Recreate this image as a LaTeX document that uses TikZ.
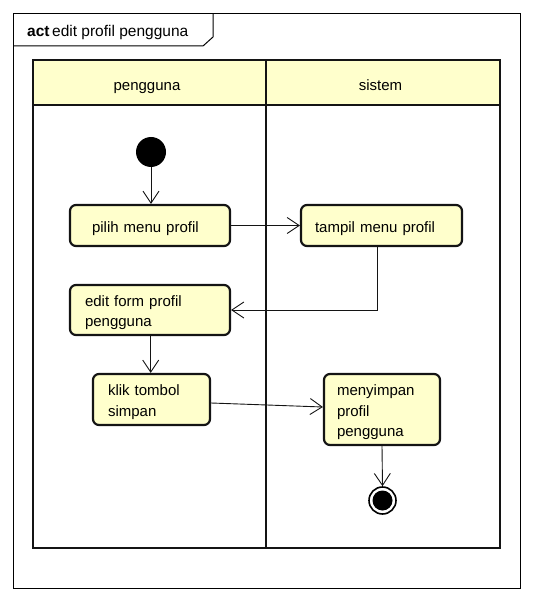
\documentclass[tikz,border=0pt]{standalone}
\usepackage{fontspec}
\setmainfont{Liberation Sans}
\usepackage{xcolor}
\usepackage{tikz}
\usetikzlibrary{positioning,arrows.meta}

\definecolor{umlfill}{HTML}{FFFFCC}
\definecolor{umlline}{HTML}{141414}

\tikzset{
  action/.style 2 args={draw=umlline, fill=umlfill, line width=2.2pt, rounded corners=6pt,
    align=left, text width=#1, inner xsep=#2, inner ysep=0pt,
    execute at begin node={\rule{0pt}{16.2pt}},
    font=\fontsize{15}{20.5}\selectfont},
  lanelabel/.style={anchor=base, inner sep=0pt, font=\fontsize{15}{18}\selectfont},
  lane/.style={draw=umlline, line width=2.4pt},
  flow/.style={->, line width=0.9pt, draw=umlline}
}

\begin{document}
\begin{tikzpicture}[x=1pt, y=-1pt, >={Straight Barb[length=12pt,width=16pt]}]
    \useasboundingbox (0,0) rectangle (533,601);

    % Frame and title
    \draw[line width=1pt] (13.5,13.5) rectangle (520,588);
    \draw[line width=1pt] (13.5,46) -- (203,46) -- (213,37) -- (213,13.5);
    \node[anchor=base west, inner sep=0pt, font=\fontsize{15.5}{18}\selectfont] (title) at (27,36.5)
        {\textbf{act}\,edit profil pengguna};

    % Swimlanes
    \fill[umlfill] (33,60) rectangle (500,105);
    \draw[lane] (33,60) rectangle (500,548);
    \draw[lane] (33,105) -- (500,105);
    \draw[lane] (266,60) -- (266,548);
    \node[lanelabel] (pengguna) at (147,90.5) {pengguna};
    \node[lanelabel] (sistem) at (380.5,90.5) {sistem};

    % Nodes
    \node[circle, fill=black, minimum size=30pt, inner sep=0pt] (start) at (151,152) {};
    \node[action={116pt}{22pt}, minimum height=41pt] (pilih) at (150,225.5) {pilih menu profil};
    \node[action={133pt}{14pt}, minimum height=41pt] (tampil) at (381.5,225.5) {tampil menu profil};
    \node[action={130pt}{15pt}, minimum height=50pt] (edit) at (150,310) {edit form profil\\pengguna};
    \node[action={87pt}{15pt}, minimum height=51pt] (klik) at (151.5,399.5) {klik tombol\\simpan};
    \node[action={90pt}{13pt}, minimum height=71pt] (simpan) at (382,409.5) {menyimpan\\profil\\pengguna};
    \node[circle, draw=black, line width=1.6pt, fill=white, minimum size=27pt, inner sep=0pt] (stop) at (382.5,500.5) {};
    \fill[black] (stop.center) circle (10pt);

    % Arrows
    \draw[flow] (start) -- (start |- pilih.north);
    \draw[flow] (pilih.east) -- (tampil.west);
    \draw[flow] ([xshift=-4.5pt]tampil.south) |- (edit.east);
    \draw[flow] ([xshift=0.7pt]edit.south) -- ([xshift=0.7pt]edit.south |- klik.north);
    \draw[flow] ([yshift=-3.5pt]klik.east) -- ([yshift=2.5pt]simpan.west);
    \draw[flow] (simpan.south) -- (stop.north);
\end{tikzpicture}
\end{document}
